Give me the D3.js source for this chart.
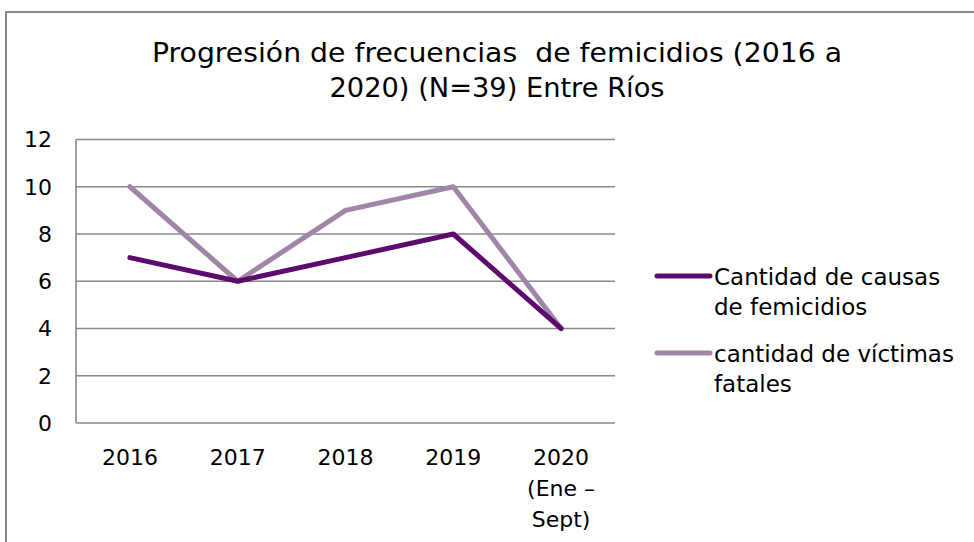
<!DOCTYPE html>
<html><head><meta charset="utf-8">
<script src="https://cdn.jsdelivr.net/npm/d3@7"></script>
<style>body{margin:0;background:#fff}svg{display:block}text{font-family:"DejaVu Sans",sans-serif;fill:#000;white-space:pre}</style>
</head><body><svg id="c" width="974" height="542"></svg>
<script>
const titleLines = ["Progresión de frecuencias  de femicidios (2016 a", "2020) (N=39) Entre Ríos"];
const categories = ["2016", "2017", "2018", "2019", "2020 (Ene – Sept)"];
const categoryLabelLines = [["2016"], ["2017"], ["2018"], ["2019"], ["2020", "(Ene –", "Sept)"]];
const causas = [7, 6, 7, 8, 4];
const victimas = [10, 6, 9, 10, 4];
const yTicks = [0, 2, 4, 6, 8, 10, 12];
const seriesNames = [["Cantidad de causas", "de femicidios"], ["cantidad de víctimas", "fatales"]];
const seriesColors = ["#5c0a6e", "#a085a9"];

const svg = d3.select("#c");
svg.append("rect").attr("x", 6).attr("y", 12).attr("width", 1100).attr("height", 1100)
  .attr("fill", "none").attr("stroke", "#898989").attr("stroke-width", 2);

const titleWidths = [690, 335];
const t = svg.append("text").attr("text-anchor", "middle").style("font-size", "27px");
titleLines.forEach((l, i) => t.append("tspan").attr("x", 497).attr("y", 62 + i * 35)
  .attr("textLength", titleWidths[i]).attr("lengthAdjust", "spacingAndGlyphs").text(l));

const x = d3.scalePoint().domain(categories).range([76, 615]).padding(0.5);
const y = d3.scaleLinear().domain([0, 12]).range([423, 139.5]);

const g = svg.append("g");
g.selectAll("line.grid").data(yTicks).join("line").attr("class", "grid")
  .attr("x1", 76).attr("x2", 615).attr("y1", d => y(d)).attr("y2", d => y(d))
  .attr("stroke", "#888").attr("stroke-width", 1.6);
g.append("line").attr("x1", 76).attr("x2", 76).attr("y1", y(12)).attr("y2", y(0))
  .attr("stroke", "#888").attr("stroke-width", 1.6);

g.selectAll("text.yt").data(yTicks).join("text").attr("class", "yt")
  .attr("x", 52).attr("y", d => y(d)).attr("dy", "0.36em").attr("text-anchor", "end")
  .style("font-size", "22px").text(d => d);

categories.forEach((c, i) => {
  const tt = g.append("text").attr("text-anchor", "middle").style("font-size", "22px");
  categoryLabelLines[i].forEach((l, j) => tt.append("tspan").attr("x", x(c)).attr("y", 465 + j * 31).text(l));
});

const line = d3.line().x((d, i) => x(categories[i])).y(d => y(d));
[victimas, causas].forEach((s, k) => {
  const col = k === 0 ? seriesColors[1] : seriesColors[0];
  g.append("path").attr("d", line(s)).attr("fill", "none").attr("stroke", col)
    .attr("stroke-width", 5).attr("stroke-linejoin", "round").attr("stroke-linecap", "round");
});

const legY = [276, 353];
seriesNames.forEach((lines, k) => {
  svg.append("line").attr("x1", 657).attr("x2", 710).attr("y1", legY[k]).attr("y2", legY[k])
    .attr("stroke", seriesColors[k]).attr("stroke-width", 5).attr("stroke-linecap", "round");
  const lt = svg.append("text").style("font-size", "23px");
  lines.forEach((l, j) => lt.append("tspan").attr("x", 714).attr("y", legY[k] + 9 + j * 30).text(l));
});
</script></body></html>
